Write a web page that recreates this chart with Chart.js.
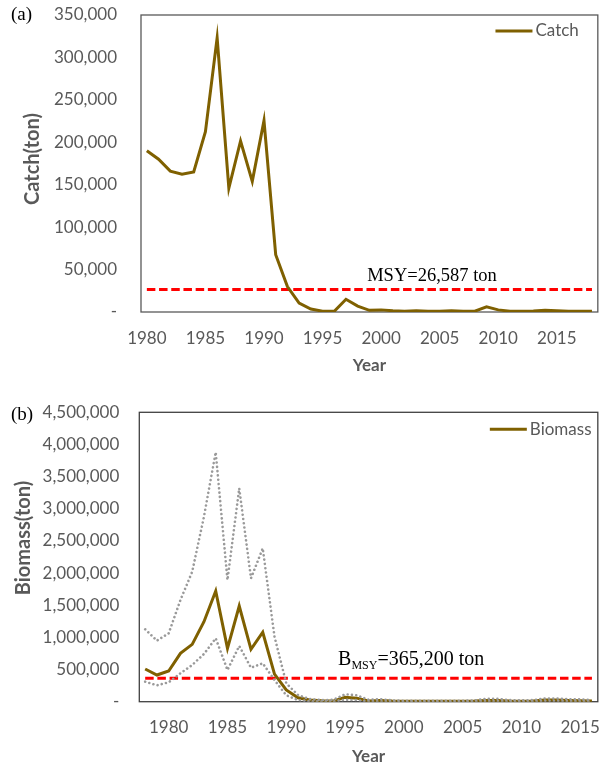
<!DOCTYPE html>
<html>
<head>
<meta charset="utf-8">
<title>Catch and biomass</title>
<script src="https://cdn.jsdelivr.net/npm/chart.js@4"></script>
<style>
  html, body { margin: 0; padding: 0; background: #ffffff; }
  canvas { display: block; }
</style>
</head>
<body>
<canvas id="catchChart" width="608" height="384"></canvas>
<canvas id="biomassChart" width="608" height="384"></canvas>
<script>
// ===== DATA =====
const catchYears = [
  1980, 1981, 1982, 1983, 1984, 1985, 1986, 1987, 1988, 1989,
  1990, 1991, 1992, 1993, 1994, 1995, 1996, 1997, 1998, 1999,
  2000, 2001, 2002, 2003, 2004, 2005, 2006, 2007, 2008, 2009,
  2010, 2011, 2012, 2013, 2014, 2015, 2016, 2017, 2018
];
const catchTon = [
  190000, 180000, 166000, 162500, 165000, 212500, 323000, 146000, 201500, 154000,
  225500, 67500, 30000, 10500, 3500, 1000, 800, 15000, 7000, 2000,
  2500, 1500, 1000, 1500, 800, 1000, 1500, 1000, 1000, 6000,
  2500, 1000, 800, 1200, 2000, 1500, 1000, 1000, 1000
];
const MSY = 26587;

const biomassYears = [
  1978, 1979, 1980, 1981, 1982, 1983, 1984, 1985, 1986, 1987,
  1988, 1989, 1990, 1991, 1992, 1993, 1994, 1995, 1996, 1997,
  1998, 1999, 2000, 2001, 2002, 2003, 2004, 2005, 2006, 2007,
  2008, 2009, 2010, 2011, 2012, 2013, 2014, 2015, 2016
];
const biomassTon = [
  508000, 415000, 477000, 752000, 892000, 1244000, 1721000, 830000, 1488000, 815000,
  1080000, 430000, 182000, 60000, 25000, 15000, 10000, 68000, 55000, 12000,
  20000, 10000, 8000, 8000, 8000, 8000, 8000, 8000, 10000, 20000,
  20000, 10000, 8000, 10000, 25000, 25000, 20000, 15000, 10000
];
const biomassUpper = [
  1126000, 949000, 1064000, 1581000, 2022000, 2877000, 3880000, 1892000, 3318000, 1919000,
  2385000, 1011000, 286000, 104000, 40000, 25000, 30000, 115000, 100000, 30000,
  40000, 20000, 15000, 15000, 15000, 15000, 15000, 15000, 20000, 45000,
  45000, 25000, 20000, 25000, 50000, 50000, 40000, 35000, 25000
];
const biomassLower = [
  311000, 255000, 302000, 442000, 571000, 742000, 986000, 493000, 866000, 529000,
  597000, 337000, 100000, 25000, 8000, 5000, 5000, 30000, 25000, 5000,
  8000, 5000, 3000, 3000, 3000, 3000, 3000, 3000, 5000, 12000,
  12000, 5000, 3000, 5000, 15000, 15000, 10000, 8000, 5000
];
const BMSY = 365200;

const catchTicks = [0, 50000, 100000, 150000, 200000, 250000, 300000, 350000];
const biomassTicks = [0, 500000, 1000000, 1500000, 2000000, 2500000, 3000000, 3500000, 4000000, 4500000];

// ===== STYLE =====
const LINE_COLOR = "#7F6000";
const TEXT_COLOR = "#595959";
Chart.defaults.font.family = "Lato, 'Open Sans', sans-serif";
Chart.defaults.color = TEXT_COLOR;

const fmtTon = v => (v === 0 ? "-" : v.toLocaleString("en-US"));

// frame round the plot area
const plotFrame = {
  id: "plotFrame",
  beforeDatasetsDraw(chart, args, o) {
    const a = chart.chartArea, ctx = chart.ctx;
    ctx.save();
    ctx.strokeStyle = o.color;
    ctx.lineWidth = o.width;
    ctx.strokeRect(a.left, a.top, a.right - a.left, a.bottom - a.top);
    ctx.restore();
  }
};

// red dashed reference level with its caption
const refLine = {
  id: "refLine",
  beforeDatasetsDraw(chart, args, o) {
    const xs = chart.scales.x, ys = chart.scales.y, ctx = chart.ctx;
    const py = ys.getPixelForValue(o.value);
    ctx.save();
    ctx.strokeStyle = "#FF0000";
    ctx.lineWidth = 3;
    ctx.setLineDash([8.5, 3.7]);
    ctx.beginPath();
    ctx.moveTo(xs.getPixelForValue(0), py);
    ctx.lineTo(xs.getPixelForValue(chart.data.labels.length - 1), py);
    ctx.stroke();
    ctx.restore();
  },
  afterDatasetsDraw(chart, args, o) {
    const a = chart.chartArea, ys = chart.scales.y, ctx = chart.ctx;
    const base = ys.getPixelForValue(o.value) - o.gap;
    ctx.save();
    ctx.fillStyle = "#000000";
    ctx.textBaseline = "alphabetic";
    let total = 0;
    o.parts.forEach(p => {
      ctx.font = p.size + "px 'Liberation Serif', 'Times New Roman', serif";
      total += ctx.measureText(p.text).width;
    });
    let x = a.left + (a.right - a.left) * o.centerAt - total / 2;
    o.parts.forEach(p => {
      ctx.font = p.size + "px 'Liberation Serif', 'Times New Roman', serif";
      ctx.fillText(p.text, x, base + (p.dy || 0));
      x += ctx.measureText(p.text).width;
    });
    ctx.restore();
  }
};

// legend sitting inside the plot, top right
const cornerLegend = {
  id: "cornerLegend",
  afterDraw(chart, args, o) {
    const a = chart.chartArea, ctx = chart.ctx;
    const ds = chart.data.datasets[0];
    ctx.save();
    ctx.font = "17px Lato, sans-serif";
    const w = ctx.measureText(ds.label).width;
    const tx = a.right - o.right - w;
    const ty = a.top + o.top;
    ctx.strokeStyle = ds.borderColor;
    ctx.lineWidth = 3;
    ctx.beginPath();
    ctx.moveTo(tx - 40, ty);
    ctx.lineTo(tx - 3, ty);
    ctx.stroke();
    ctx.fillStyle = TEXT_COLOR;
    ctx.textBaseline = "middle";
    ctx.fillText(ds.label, tx, ty);
    ctx.restore();
  }
};

// panel tag and rotated y title
const panelText = {
  id: "panelText",
  afterDraw(chart, args, o) {
    const ctx = chart.ctx;
    ctx.save();
    ctx.fillStyle = "#000000";
    ctx.font = "19px 'Liberation Serif', 'Times New Roman', serif";
    ctx.textBaseline = "middle";
    ctx.fillText(o.tag, o.tagX, o.tagY);
    ctx.translate(o.titleX, o.titleY);
    ctx.rotate(-Math.PI / 2);
    ctx.fillStyle = TEXT_COLOR;
    ctx.font = "bold 20px Lato, sans-serif";
    ctx.textAlign = "center";
    ctx.fillText(o.title, 0, 0);
    ctx.restore();
  }
};

function makeOptions(cfg) {
  return {
    responsive: false,
    animation: false,
    layout: { padding: { left: 0, right: cfg.padRight, top: cfg.padTop, bottom: 0 } },
    plugins: {
      legend: { display: false },
      tooltip: { enabled: false },
      plotFrame: { color: cfg.frameColor, width: 1.3 },
      refLine: cfg.ref,
      cornerLegend: cfg.legend,
      panelText: cfg.panel
    },
    elements: { point: { radius: 0 }, line: { tension: 0 } },
    scales: {
      x: {
        type: "category",
        offset: true,
        grid: { display: false, drawTicks: false },
        border: { display: false },
        afterFit: s => { s.height = cfg.xHeight; },
        ticks: {
          autoSkip: false,
          maxRotation: 0,
          padding: 16,
          font: { size: 17 },
          callback(v) {
            const yr = this.getLabelForValue(v);
            return yr % 5 === 0 ? String(yr) : "";
          }
        },
        title: {
          display: true,
          text: "Year",
          font: { size: 17, weight: "bold" },
          padding: { top: 0, bottom: cfg.yearPad }
        }
      },
      y: {
        min: 0,
        max: cfg.ticks[cfg.ticks.length - 1],
        grid: { display: false, drawTicks: false },
        border: { display: false },
        afterFit: s => {
          s.width = cfg.yWidth;
          // tick padding would otherwise push the plot top down
          s.paddingTop = 0;
          s.paddingBottom = 0;
        },
        afterBuildTicks: s => { s.ticks = cfg.ticks.map(v => ({ value: v })); },
        ticks: {
          padding: cfg.yPad,
          font: { size: 17 },
          callback: v => fmtTon(v)
        }
      }
    }
  };
}

// ===== GRAFIK CATCH =====
new Chart(document.getElementById("catchChart"), {
  type: "line",
  data: {
    labels: catchYears,
    datasets: [{
      label: "Catch",
      data: catchTon,
      borderColor: LINE_COLOR,
      borderWidth: 3
    }]
  },
  options: makeOptions({
    padRight: 3, padTop: 15, xHeight: 72, yWidth: 141, yPad: 24, yearPad: 8,
    ticks: catchTicks, frameColor: "#595959",
    ref: { value: MSY, gap: 8.6, centerAt: 0.637,
           parts: [{ text: "MSY=26,587 ton", size: 18.5 }] },
    legend: { right: 19, top: 16 },
    panel: { tag: "(a)", tagX: 11, tagY: 15, title: "Catch(ton)", titleX: 33, titleY: 159 }
  }),
  plugins: [plotFrame, refLine, cornerLegend, panelText]
});

// ===== GRAFIK BIOMASS =====
new Chart(document.getElementById("biomassChart"), {
  type: "line",
  data: {
    labels: biomassYears,
    datasets: [{
      label: "Biomass",
      data: biomassTon,
      borderColor: LINE_COLOR,
      borderWidth: 3,
      order: 1
    }, {
      label: "Upper",
      data: biomassUpper,
      borderColor: "#9A9A9A",
      borderWidth: 2.6,
      borderDash: [0.01, 4.3],
      borderCapStyle: "round",
      order: 0
    }, {
      label: "Lower",
      data: biomassLower,
      borderColor: "#9A9A9A",
      borderWidth: 2.6,
      borderDash: [0.01, 4.3],
      borderCapStyle: "round",
      order: 0
    }]
  },
  options: makeOptions({
    padRight: 5, padTop: 28.3, xHeight: 66.3, yWidth: 139.3, yPad: 20, yearPad: 1,
    ticks: biomassTicks, frameColor: "#404040",
    ref: { value: BMSY, gap: 13, centerAt: 0.593,
           parts: [{ text: "B", size: 20 }, { text: "MSY", size: 12, dy: 4 },
                   { text: "=365,200 ton", size: 20 }] },
    legend: { right: 6.3, top: 17 },
    panel: { tag: "(b)", tagX: 11, tagY: 31, title: "Biomass(ton)", titleX: 24, titleY: 154 }
  }),
  plugins: [plotFrame, refLine, cornerLegend, panelText]
});
</script>
</body>
</html>
